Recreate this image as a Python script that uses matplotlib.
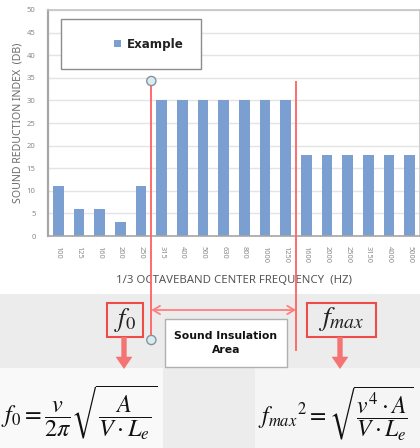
import matplotlib
matplotlib.use("Agg")
import matplotlib.pyplot as plt
import matplotlib.transforms as mtransforms
from matplotlib.patches import Rectangle, Circle, FancyArrowPatch

plt.rcParams['font.family'] = ['Noto Sans', 'DejaVu Sans']
plt.rcParams['mathtext.fontset'] = 'stix'

# 1/3 octave band centres and sound reduction index
freqs = ['100', '125', '160', '200', '250', '315', '400', '500', '630',
         '800', '1000', '1250', '1600', '2000', '2500', '3150', '4000', '5000']
values = [11, 6, 6, 3, 11, 30, 30, 30, 30, 30, 30, 30, 18, 18, 18, 18, 18, 18]
y_ticks = [0, 5, 10, 15, 20, 25, 30, 35, 40, 45, 50]
f0_band = 4.5      # between 250 and 315 Hz
fmax_band = 11.5   # between 1250 and 1600 Hz

W, H = 420, 448
fig = plt.figure(figsize=(W / 100, H / 100), dpi=100)

# main bar chart, placed in pixel terms
ax = fig.add_axes([48 / W, (H - 236) / H, 372 / W, 226 / H])
x = range(len(freqs))
ax.bar(x, values, width=0.52, color='#7b9fd0', zorder=2)
ax.set_xlim(-0.5, len(freqs) - 0.5)
ax.set_ylim(0, 50)
ax.set_yticks(y_ticks)
ax.set_xticks(list(x))
ax.set_xticklabels(freqs, rotation=270, fontsize=5.3, color='#8a8a8a')
ax.tick_params(axis='y', labelsize=5.5, colors='#8a8a8a', length=0, pad=9)
ax.tick_params(axis='x', length=0, pad=7)
ax.grid(axis='y', color='#e4e4e4', linewidth=1, zorder=0)
ax.set_axisbelow(True)
for side in ['top', 'right']:
    ax.spines[side].set_color('#c4c4c4')
    ax.spines[side].set_linewidth(1.2)
ax.spines['left'].set_color('#a6a6a6')
ax.spines['left'].set_linewidth(1.6)
ax.spines['bottom'].set_color('#a6a6a6')
ax.spines['bottom'].set_linewidth(1.2)
ax.set_ylabel('SOUND REDUCTION INDEX  (DB)', fontsize=7.6, color='#6b6b6b', labelpad=2)
ax.set_xlabel('1/3 OCTAVEBAND CENTER FREQUENCY  (HZ)', fontsize=8.2, color='#555555', labelpad=9)

# overlay in pixel coordinates for the annotations
over = fig.add_axes([0, 0, 1, 1], zorder=5)
over.set_xlim(0, W)
over.set_ylim(H, 0)
over.axis('off')
over.patch.set_alpha(0)

# legend box
over.add_patch(Rectangle((61, 19), 140, 50, facecolor='white', edgecolor='#8c8c8c', linewidth=1))
over.add_patch(Rectangle((113.5, 40.5), 7, 7, facecolor='#7b9fd0', edgecolor='none'))
over.text(127, 44.5, 'Example', fontsize=8.6, fontweight='bold', family='DejaVu Sans',
          color='#222222', va='center', ha='left')

# lower grey panel
over.add_patch(Rectangle((0, 294), W, H - 294, facecolor='#ececec', edgecolor='none', zorder=0))
over.add_patch(Rectangle((0, 368), 163, H - 368, facecolor='#f9f9f9', edgecolor='none', zorder=0))
over.add_patch(Rectangle((255, 368), W - 255, H - 368, facecolor='#f5f5f5', edgecolor='none', zorder=0))

# band limit lines (x in category units, y in pixels)
blend = mtransforms.blended_transform_factory(ax.transData, over.transData)
red = '#ff6b6b'
over.plot([f0_band, f0_band], [86, 335], color=red, linewidth=1.4, transform=blend, zorder=3)
over.plot([fmax_band, fmax_band], [82, 350], color=red, linewidth=1.4, transform=blend, zorder=3)
x0 = ax.transData.transform((f0_band, 0))[0]
for yc in [81, 340]:
    over.add_patch(Circle((x0, H - yc), 4.6, facecolor='#d6ecf3', edgecolor='#8a9298',
                          linewidth=1, transform=None, zorder=4))
over.add_patch(FancyArrowPatch((f0_band, 310), (fmax_band, 310), transform=blend,
                               arrowstyle='<->,head_length=5,head_width=3',
                               color='#ff7f7f', linewidth=1.3, shrinkA=0, shrinkB=0, zorder=3))

# label boxes
over.add_patch(Rectangle((165, 319), 122, 48, facecolor='white', edgecolor='#b0b0b0', linewidth=1, zorder=4))
over.text(226, 343, 'Sound Insulation\nArea', fontsize=7.8, fontweight='bold', family='DejaVu Sans',
          ha='center', va='center', linespacing=1.4, color='#111111', zorder=5)

box_red = '#f04a4a'
over.add_patch(Rectangle((107, 303), 36, 34, facecolor='none', edgecolor=box_red, linewidth=1.5, zorder=4))
over.text(125, 320, r'$f_0$', fontsize=19, ha='center', va='center', color='#222222', zorder=5)
over.add_patch(Rectangle((307, 303), 69, 34, facecolor='none', edgecolor=box_red, linewidth=1.5, zorder=4))
over.text(341.5, 319, r'$f_{max}$', fontsize=20, ha='center', va='center', color='#222222', zorder=5)

for xc in [124, 340]:
    over.add_patch(FancyArrowPatch((xc, 337), (xc, 369),
                                   arrowstyle='simple,head_length=0.8,head_width=1.1,tail_width=0.35',
                                   mutation_scale=11, color='#f47373', linewidth=0,
                                   shrinkA=0, shrinkB=0, zorder=4))

# formulas
over.text(1, 413, r'$f_0 = \dfrac{v}{2\pi}\sqrt{\dfrac{A}{V \cdot L_e}}$', fontsize=17.5,
          ha='left', va='center', color='#111111', zorder=5)
over.text(258, 413, r'$f_{max}{}^{2} = \sqrt{\dfrac{v^4 \cdot A}{V \cdot L_e}}$', fontsize=17,
          ha='left', va='center', color='#111111', zorder=5)

fig.savefig('out.png', dpi=100)
